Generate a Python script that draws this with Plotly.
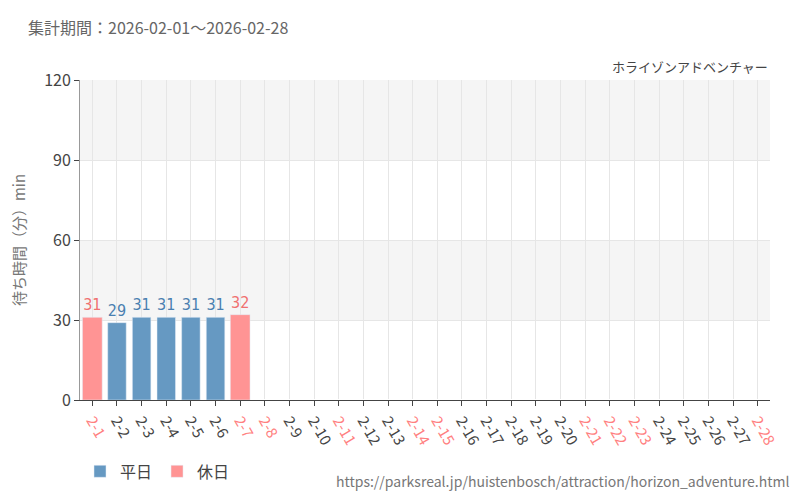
import plotly.graph_objects as go

days = [f"2-{d}" for d in range(1, 29)]
holidays = ["2-1", "2-7", "2-8", "2-11", "2-14", "2-15", "2-21", "2-22", "2-23", "2-28"]
bar_days = ["2-1", "2-2", "2-3", "2-4", "2-5", "2-6", "2-7"]
bar_waits = [31, 29, 31, 31, 31, 31, 32]

BLUE = "#6699c2"
RED = "#ff9494"

wk_x = [d for d in bar_days if d not in holidays]
wk_y = [w for d, w in zip(bar_days, bar_waits) if d not in holidays]
hd_x = [d for d in bar_days if d in holidays]
hd_y = [w for d, w in zip(bar_days, bar_waits) if d in holidays]

fig = go.Figure()
fig.add_trace(go.Bar(x=wk_x, y=wk_y, name="平日", marker_color=BLUE, width=0.75,
                     text=wk_y, textposition="outside", cliponaxis=False,
                     textfont=dict(color="#4a7fb0", size=16, family="DejaVu Sans Condensed")))
fig.add_trace(go.Bar(x=hd_x, y=hd_y, name="休日", marker_color=RED, width=0.8,
                     text=hd_y, textposition="outside", cliponaxis=False,
                     textfont=dict(color="#f07070", size=16, family="DejaVu Sans Condensed")))

for y0, y1 in [(30, 60), (90, 120)]:
    fig.add_shape(type="rect", xref="paper", x0=0, x1=1, y0=y0, y1=y1,
                  fillcolor="#f5f5f5", line_width=0, layer="below")

ticktext = [f'<span style="color:{"#ff8080" if d in holidays else "#444"}">{d}</span>' for d in days]

fig.update_layout(
    width=800, height=500, barmode="overlay",
    plot_bgcolor="white", paper_bgcolor="white",
    font=dict(family="Noto Sans CJK JP", color="#555", size=14),
    margin=dict(l=72, r=38, t=72, b=108),
    title=dict(text="集計期間：2026-02-01～2026-02-28", x=0.025, y=0.97,
               font=dict(size=16, color="#666")),
    xaxis=dict(categoryorder="array", categoryarray=days, range=[-0.5, 27.5],
               tickvals=days, ticktext=ticktext, tickangle=60, showgrid=True,
               gridcolor="#e6e6e6", showline=True, linecolor="#444", ticks="outside",
               tickcolor="#444", ticklen=5, tickfont=dict(size=15)),
    yaxis=dict(range=[0, 120], tickvals=[0, 30, 60, 90, 120], showgrid=True,
               gridcolor="#e6e6e6", showline=True, linecolor="#999",
               ticks="outside", tickcolor="#444", tickfont=dict(size=16, color="#444"),
               title=dict(text="待ち時間（分）min", font=dict(size=15, color="#777"))),
    legend=dict(orientation="h", x=0.0, y=-0.17, xanchor="left", yanchor="top",
                font=dict(size=16, color="#444")),
    annotations=[
        dict(text="ホライゾンアドベンチャー", xref="paper", yref="paper", x=1, y=1.005,
             xanchor="right", yanchor="bottom", showarrow=False, font=dict(size=13, color="#444")),
        dict(text="https://parksreal.jp/huistenbosch/attraction/horizon_adventure.html",
             xref="paper", yref="paper", x=1.03, y=-0.215, xanchor="right", yanchor="top",
             showarrow=False, font=dict(size=14, color="#777")),
    ],
)

fig.write_html("out.html")
